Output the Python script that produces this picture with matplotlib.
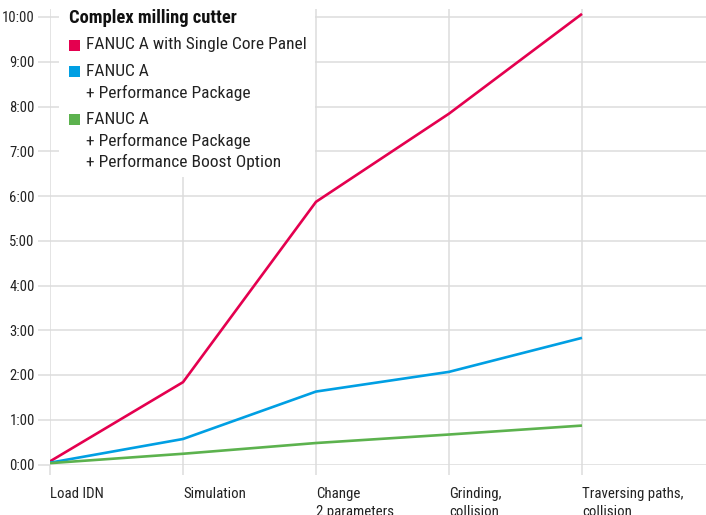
import matplotlib
matplotlib.use('Agg')
import matplotlib.pyplot as plt
from matplotlib import font_manager
from matplotlib.patches import Rectangle

# pick a narrow-ish font if one is installed
names = set(f.name for f in font_manager.fontManager.ttflist)
family = 'DejaVu Sans'
for cand in ['Liberation Sans Narrow', 'Roboto Condensed', 'DejaVu Sans Condensed', 'Roboto']:
    if cand in names:
        family = cand
        break
plt.rcParams['font.family'] = [family, 'DejaVu Sans']

# data (hours)
categories = ['Load IDN', 'Simulation', 'Change\n2 parameters', 'Grinding,\ncollision',
              'Traversing paths,\ncollision']
single_core = [0.07, 1.84, 5.87, 7.84, 10.07]
perf_package = [0.04, 0.57, 1.63, 2.07, 2.83]
perf_boost = [0.03, 0.24, 0.48, 0.67, 0.87]
y_ticks = [0, 1, 2, 3, 4, 5, 6, 7, 8, 9, 10]
y_labels = ['%d:00' % h for h in y_ticks]

legend_title = 'Complex milling cutter'
legend_labels = [['FANUC A with Single Core Panel'],
                 ['FANUC A', '+ Performance Package'],
                 ['FANUC A', '+ Performance Package', '+ Performance Boost Option']]
colors = ['#e4004f', '#009fe3', '#5cb24e']

W, H = 706, 515
fig = plt.figure(figsize=(W / 100, H / 100), dpi=100)
ax = fig.add_axes([50 / W, (H - 464.5) / H, 1 - 50 / W, (464.5 - 9) / H])

x = list(range(len(categories)))
for vals, c in zip([single_core, perf_package, perf_boost], colors):
    ax.plot(x, vals, color=c, lw=1.9, zorder=4, solid_capstyle='butt')

ax.set_xlim(0, (W - 50) / 133.0)
ax.set_ylim(0, 10 + 8 / 44.75)

grid_c = '#dcdcdc'
ax.set_axisbelow(True)
ax.set_xticks(x)
ax.set_xticklabels(categories, ha='left', fontsize=10.7, color='#222222', linespacing=1.35)
ax.set_yticks(y_ticks)
ax.set_yticklabels(y_labels, fontsize=10.5, color='#222222')
ax.tick_params(axis='y', length=9, width=1.1, color=grid_c, pad=2)
ax.tick_params(axis='x', length=7, width=1.1, color=grid_c, pad=9)
ax.grid(True, color=grid_c, lw=1.1)
for s in ax.spines.values():
    s.set_visible(False)

# white legend box covering the grid
ax.add_patch(Rectangle((9 / 133.0, 10 - (177 - 17) / 44.75), 1.99 - 9 / 133.0, 5,
                       facecolor='white', edgecolor='none', zorder=3))

def fx(px):
    return px / W

def fy(py):
    return 1 - py / H

fig.text(fx(69), fy(18), legend_title, fontsize=13.3, fontweight='bold',
         color='#111111', va='center', ha='left', zorder=5)
rows = [[45], [71, 93], [119, 141, 162]]
for lines, ys, c in zip(legend_labels, rows, colors):
    fig.add_artist(Rectangle((fx(69), fy(ys[0] + 5.5)), 11 / W, 11 / H,
                             transform=fig.transFigure, facecolor=c, edgecolor='none'))
    for txt, yy in zip(lines, ys):
        fig.text(fx(86), fy(yy), txt, fontsize=12.5, color='#222222',
                 va='center', ha='left')

fig.savefig('out.png', dpi=100)
